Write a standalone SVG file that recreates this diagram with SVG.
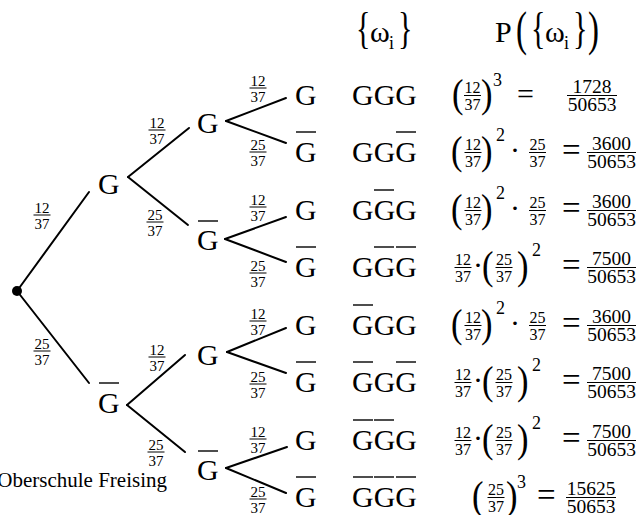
<svg xmlns="http://www.w3.org/2000/svg" width="638" height="515" viewBox="0 0 638 515">
<style>
text{font-family:"Liberation Serif","Times New Roman",serif;fill:#000}
.m{font-size:30px}
.q{font-size:33px}
.f{font-size:15px;text-anchor:middle}
.ff{font-size:16px;text-anchor:middle}
.r{font-size:19.5px;text-anchor:middle}
.s{font-size:18px}
.c{text-anchor:middle}
.e{stroke:#000;stroke-width:2;fill:none;stroke-linecap:round}
.b{stroke:#000;stroke-width:1.4}
.fb{stroke:#000;stroke-width:1}
</style>
<defs>
<g id="f1237"><text class="f" x="0" y="-2.5">12</text><line class="fb" x1="-8.5" y1="0" x2="8.5" y2="0"/><text class="f" x="0" y="13.5">37</text></g>
<g id="f2537"><text class="f" x="0" y="-2.5">25</text><line class="fb" x1="-8.5" y1="0" x2="8.5" y2="0"/><text class="f" x="0" y="13.5">37</text></g>
<g id="s1237"><text class="ff" x="0" y="-3">12</text><line class="fb" x1="-8.5" y1="0" x2="8.5" y2="0"/><text class="ff" x="0" y="14">37</text></g>
<g id="s2537"><text class="ff" x="0" y="-3">25</text><line class="fb" x1="-8.5" y1="0" x2="8.5" y2="0"/><text class="ff" x="0" y="14">37</text></g>
</defs>

<!-- header -->
<g id="header">
<text class="m" transform="translate(356,43) scale(1,1.45)">{</text>
<text class="m" x="370" y="42">ω</text>
<text class="s" x="389" y="49">i</text>
<text class="m" transform="translate(398,43) scale(1,1.45)">}</text>
<text class="m" x="495" y="42">P</text>
<text class="m" transform="translate(516,45) scale(1.1,1.6)">(</text>
<text class="m" transform="translate(531,43) scale(1,1.45)">{</text>
<text class="m" x="545" y="42">ω</text>
<text class="s" x="564" y="49">i</text>
<text class="m" transform="translate(573,43) scale(1,1.45)">}</text>
<text class="m" transform="translate(588,45) scale(1.1,1.6)">)</text>
</g>

<!-- connectors -->
<g id="connectors">
<line class="e" x1="17" y1="291" x2="89" y2="192"/>
<line class="e" x1="17" y1="291" x2="89" y2="383"/>
<line class="e" x1="128" y1="177" x2="189" y2="128"/>
<line class="e" x1="128" y1="177" x2="188" y2="225"/>
<line class="e" x1="127" y1="405" x2="185" y2="355"/>
<line class="e" x1="127" y1="405" x2="185" y2="452"/>
<line class="e" x1="226" y1="121" x2="286" y2="98"/>
<line class="e" x1="226" y1="121" x2="286" y2="143"/>
<line class="e" x1="225" y1="239" x2="286" y2="217"/>
<line class="e" x1="225" y1="239" x2="286" y2="262"/>
<line class="e" x1="227" y1="352" x2="286" y2="328"/>
<line class="e" x1="227" y1="352" x2="286" y2="373"/>
<line class="e" x1="226" y1="468" x2="287" y2="447"/>
<line class="e" x1="226" y1="468" x2="286" y2="493"/>
<use href="#f1237" x="42" y="215"/>
<use href="#f2537" x="42" y="351"/>
<use href="#f1237" x="157" y="130"/>
<use href="#f2537" x="155" y="222"/>
<use href="#f1237" x="157" y="357"/>
<use href="#f2537" x="156" y="452"/>
<use href="#f1237" x="258" y="88"/>
<use href="#f2537" x="258" y="152"/>
<use href="#f1237" x="258" y="207"/>
<use href="#f2537" x="258" y="273"/>
<use href="#f1237" x="258" y="321"/>
<use href="#f2537" x="258" y="384"/>
<use href="#f1237" x="258" y="439"/>
<use href="#f2537" x="258" y="499"/>
</g>

<!-- nodes -->
<g id="root"><circle cx="17" cy="291" r="5" fill="#000"/></g>
<g id="n1"><text class="m" x="98" y="194">G</text></g>
<g id="n2"><text class="m" x="98" y="413">G</text><line class="b" x1="99" y1="383" x2="119" y2="383"/></g>
<g id="n11"><text class="m" x="197" y="133">G</text></g>
<g id="n12"><text class="m" x="197" y="250">G</text><line class="b" x1="198" y1="221" x2="218" y2="221"/></g>
<g id="n21"><text class="m" x="197" y="365">G</text></g>
<g id="n22"><text class="m" x="197" y="480">G</text><line class="b" x1="198" y1="451" x2="218" y2="451"/></g>
<g id="n111"><text class="m" x="295" y="105">G</text></g>
<g id="n112"><text class="m" x="295" y="162">G</text><line class="b" x1="296" y1="132" x2="316" y2="132"/></g>
<g id="n121"><text class="m" x="295" y="220">G</text></g>
<g id="n122"><text class="m" x="295" y="277">G</text><line class="b" x1="296" y1="247" x2="316" y2="247"/></g>
<g id="n211"><text class="m" x="295" y="335">G</text></g>
<g id="n212"><text class="m" x="295" y="392">G</text><line class="b" x1="296" y1="362" x2="316" y2="362"/></g>
<g id="n221"><text class="m" x="295" y="450">G</text></g>
<g id="n222"><text class="m" x="295" y="507">G</text><line class="b" x1="296" y1="477" x2="316" y2="477"/></g>

<!-- outcomes -->
<g id="o1"><text class="m" x="352" y="105">GGG</text></g>
<g id="o2"><text class="m" x="352" y="162">GGG</text><line class="b" x1="396" y1="132" x2="416" y2="132"/></g>
<g id="o3"><text class="m" x="352" y="220">GGG</text><line class="b" x1="374" y1="190" x2="394" y2="190"/></g>
<g id="o4"><text class="m" x="352" y="277">GGG</text><line class="b" x1="374" y1="247" x2="394" y2="247"/><line class="b" x1="396" y1="247" x2="416" y2="247"/></g>
<g id="o5"><text class="m" x="352" y="335">GGG</text><line class="b" x1="353" y1="305" x2="373" y2="305"/></g>
<g id="o6"><text class="m" x="352" y="392">GGG</text><line class="b" x1="353" y1="362" x2="373" y2="362"/><line class="b" x1="396" y1="362" x2="416" y2="362"/></g>
<g id="o7"><text class="m" x="352" y="450">GGG</text><line class="b" x1="353" y1="420" x2="373" y2="420"/><line class="b" x1="374" y1="420" x2="394" y2="420"/></g>
<g id="o8"><text class="m" x="352" y="507">GGG</text><line class="b" x1="353" y1="477" x2="373" y2="477"/><line class="b" x1="374" y1="477" x2="394" y2="477"/><line class="b" x1="396" y1="477" x2="416" y2="477"/></g>

<!-- probabilities -->
<g id="p1">
<text class="m" transform="translate(452,107) scale(1.15,1.35)">(</text>
<use href="#s1237" x="472.5" y="95.5"/>
<text class="m" transform="translate(481,107) scale(1.15,1.35)">)</text>
<text class="s" x="493" y="86">3</text>
<text class="m" x="517" y="104">=</text>
<text class="r" x="592" y="92.5">1728</text><line class="fb" x1="567" y1="95.5" x2="617" y2="95.5"/><text class="r" x="592" y="111">50653</text>
</g>
<g id="p2">
<text class="m" transform="translate(451,164) scale(1.15,1.35)">(</text>
<use href="#s1237" x="473" y="152.5"/>
<text class="m" transform="translate(481,164) scale(1.15,1.35)">)</text>
<text class="s" x="496" y="141">2</text>
<text class="m c" x="515" y="160">·</text>
<use href="#s2537" x="537.5" y="152.5"/>
<text class="q" x="562" y="161">=</text>
<text class="r" x="611.5" y="149.5">3600</text><line class="fb" x1="587" y1="152.5" x2="636" y2="152.5"/><text class="r" x="611.5" y="168">50653</text>
</g>
<g id="p3">
<text class="m" transform="translate(451,222) scale(1.15,1.35)">(</text>
<use href="#s1237" x="473" y="210.5"/>
<text class="m" transform="translate(481,222) scale(1.15,1.35)">)</text>
<text class="s" x="496" y="199">2</text>
<text class="m c" x="515" y="218">·</text>
<use href="#s2537" x="537.5" y="210.5"/>
<text class="q" x="562" y="219">=</text>
<text class="r" x="611.5" y="207.5">3600</text><line class="fb" x1="587" y1="210.5" x2="636" y2="210.5"/><text class="r" x="611.5" y="226">50653</text>
</g>
<g id="p4">
<use href="#s1237" x="463" y="267.5"/>
<text class="m c" x="478" y="275">·</text>
<text class="m" transform="translate(482,279) scale(1.15,1.35)">(</text>
<use href="#s2537" x="504" y="267.5"/>
<text class="m" transform="translate(517,279) scale(1.15,1.35)">)</text>
<text class="s" x="532" y="256">2</text>
<text class="q" x="562" y="276">=</text>
<text class="r" x="611.5" y="264.5">7500</text><line class="fb" x1="587" y1="267.5" x2="636" y2="267.5"/><text class="r" x="611.5" y="283">50653</text>
</g>
<g id="p5">
<text class="m" transform="translate(451,337) scale(1.15,1.35)">(</text>
<use href="#s1237" x="473" y="325.5"/>
<text class="m" transform="translate(481,337) scale(1.15,1.35)">)</text>
<text class="s" x="496" y="314">2</text>
<text class="m c" x="515" y="333">·</text>
<use href="#s2537" x="537.5" y="325.5"/>
<text class="q" x="562" y="334">=</text>
<text class="r" x="611.5" y="322.5">3600</text><line class="fb" x1="587" y1="325.5" x2="636" y2="325.5"/><text class="r" x="611.5" y="341">50653</text>
</g>
<g id="p6">
<use href="#s1237" x="463" y="382.5"/>
<text class="m c" x="478" y="390">·</text>
<text class="m" transform="translate(482,394) scale(1.15,1.35)">(</text>
<use href="#s2537" x="504" y="382.5"/>
<text class="m" transform="translate(517,394) scale(1.15,1.35)">)</text>
<text class="s" x="532" y="371">2</text>
<text class="q" x="562" y="391">=</text>
<text class="r" x="611.5" y="379.5">7500</text><line class="fb" x1="587" y1="382.5" x2="636" y2="382.5"/><text class="r" x="611.5" y="398">50653</text>
</g>
<g id="p7">
<use href="#s1237" x="463" y="440.5"/>
<text class="m c" x="478" y="448">·</text>
<text class="m" transform="translate(482,452) scale(1.15,1.35)">(</text>
<use href="#s2537" x="504" y="440.5"/>
<text class="m" transform="translate(517,452) scale(1.15,1.35)">)</text>
<text class="s" x="532" y="429">2</text>
<text class="q" x="562" y="449">=</text>
<text class="r" x="611.5" y="437.5">7500</text><line class="fb" x1="587" y1="440.5" x2="636" y2="440.5"/><text class="r" x="611.5" y="456">50653</text>
</g>
<g id="p8">
<text class="m" transform="translate(472,509) scale(1.15,1.35)">(</text>
<use href="#s2537" x="496" y="497.5"/>
<text class="m" transform="translate(506,509) scale(1.15,1.35)">)</text>
<text class="s" x="517" y="488">3</text>
<text class="q" x="537" y="506">=</text>
<text class="r" x="591" y="494.5">15625</text><line class="fb" x1="566" y1="497.5" x2="616" y2="497.5"/><text class="r" x="591" y="513">50653</text>
</g>

<g id="credit"><text x="167" y="487" style="font-size:21px;text-anchor:end">Oberschule Freising</text></g>
</svg>
